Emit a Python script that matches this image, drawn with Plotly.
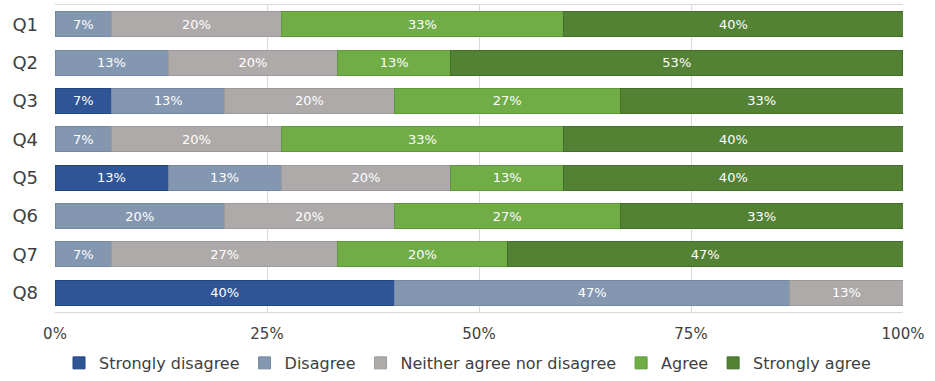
import plotly.graph_objects as go

questions = ["Q1", "Q2", "Q3", "Q4", "Q5", "Q6", "Q7", "Q8"]
strongly_disagree = [0, 0, 6.67, 0, 13.33, 0, 0, 40.0]
disagree = [6.67, 13.33, 13.33, 6.67, 13.33, 20.0, 6.67, 46.67]
neither = [20.0, 20.0, 20.0, 20.0, 20.0, 20.0, 26.67, 13.33]
agree = [33.33, 13.33, 26.67, 33.33, 13.33, 26.67, 20.0, 0]
strongly_agree = [40.0, 53.33, 33.33, 40.0, 40.0, 33.33, 46.67, 0]
x_ticks = [0, 25, 50, 75, 100]
x_tick_labels = ["0%", "25%", "50%", "75%", "100%"]

series = [
    ("Strongly disagree", strongly_disagree, "#2F5597", "#24467F"),
    ("Disagree", disagree, "#8497B0", "#7488A3"),
    ("Neither agree nor disagree", neither, "#AEAAAA", "#9E9A9A"),
    ("Agree", agree, "#70AD47", "#5E9A38"),
    ("Strongly agree", strongly_agree, "#548235", "#42702A"),
]

FONT = "'DejaVu Sans', sans-serif"

fig = go.Figure()
for name, vals, col, edge in series:
    texts = [f"{v:.0f}%" if v > 0 else "" for v in vals]
    fig.add_trace(go.Bar(
        y=questions, x=vals, name=name, orientation="h",
        marker=dict(color=col, line=dict(color=edge, width=1)),
        text=texts, textposition="inside", insidetextanchor="middle",
        textfont=dict(color="white", size=13, family=FONT),
        hoverinfo="skip",
    ))

fig.update_layout(
    barmode="stack", bargap=0.35,
    width=935, height=381,
    margin=dict(l=55, r=32, t=5, b=69, autoexpand=False),
    plot_bgcolor="white", paper_bgcolor="white",
    font=dict(family=FONT, color="#404040"),
    showlegend=True,
    legend=dict(
        orientation="h", xref="container", yref="paper",
        x=0.5, xanchor="center", y=-0.166, yanchor="middle",
        font=dict(size=16, color="#404040", family=FONT),
        traceorder="normal", itemwidth=30,
    ),
    uniformtext=dict(mode="show", minsize=10),
)
fig.update_xaxes(
    range=[0, 100], tickvals=x_ticks, ticktext=x_tick_labels,
    showgrid=True, gridcolor="#D9D9D9", gridwidth=1,
    zeroline=False, showline=True, linecolor="#D9D9D9", mirror=True,
    tickfont=dict(size=15, color="#404040", family=FONT),
    ticks="", ticklabelstandoff=8, fixedrange=True, automargin=False,
)
fig.update_yaxes(
    categoryorder="array", categoryarray=questions[::-1],
    showgrid=False, zeroline=False, showline=False,
    tickfont=dict(size=18, color="#404040", family=FONT),
    ticks="", ticklabelstandoff=16, fixedrange=True, automargin=False,
)

fig.write_html("out.html", config={"displayModeBar": False},
               post_script="document.body.style.margin='0';document.body.style.padding='0';")
